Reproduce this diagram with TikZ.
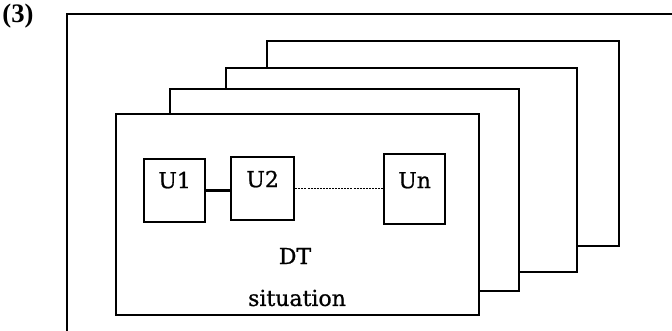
\documentclass[tikz,border=0pt]{standalone}
\usepackage{fontspec}
\setmainfont{DejaVu Serif}[FakeBold=0.9]
\newfontfamily\labelfont{DejaVu Serif}[FakeBold=0.9]
\newfontfamily\numfont{Liberation Serif}
\begin{document}
\begin{tikzpicture}[x=0.75pt,y=-0.75pt,
  frame/.style={line width=1.5pt, line join=miter},
  layer/.style={draw, fill=white, line width=1.7pt},
  unit/.style={draw, line width=1.7pt, inner xsep=0pt, inner ysep=0pt,
    font=\labelfont\fontsize{16.5}{18}\selectfont, anchor=north west},
  lbl/.style={font=\labelfont\fontsize{16.5}{18}\selectfont, inner sep=0pt}]
\useasboundingbox (0,0) rectangle (672,331);
% caption
\node[inner sep=0pt, font=\numfont\bfseries\fontsize{20}{22}\selectfont] (num) at (18,16) {(3)};
% outer frame
\draw[frame] (67,331) -- (67,14) -- (672,14);
% stacked layers (back to front)
\draw[layer] (267,41) rectangle (619,246);
\draw[layer] (226,68) rectangle (577,272);
\draw[layer] (170,89) rectangle (519,291);
\draw[layer] (116,114) rectangle (479,315);
% units
\node[unit, minimum width=61*0.75pt, text height=29*0.75pt, text depth=34*0.75pt] (U1) at (143,158) {U1};
\node[unit, minimum width=63*0.75pt, text height=30*0.75pt, text depth=33*0.75pt] (U2) at (230,156) {U2};
\node[unit, minimum width=61*0.75pt, text height=34*0.75pt, text depth=36*0.75pt] (Un) at (383,153) {Un};
\draw[line width=1.7pt] (U1.east) -- (U1.east -| U2.west);
\draw[line width=1pt, dash pattern=on 1.5pt off 0.8pt] (U2.east) -- (U2.east -| Un.west);
% labels
\node[lbl] (dt) at (295,256) {DT};
\node[lbl] (sit) at (297,298) {situation};
\end{tikzpicture}
\end{document}
